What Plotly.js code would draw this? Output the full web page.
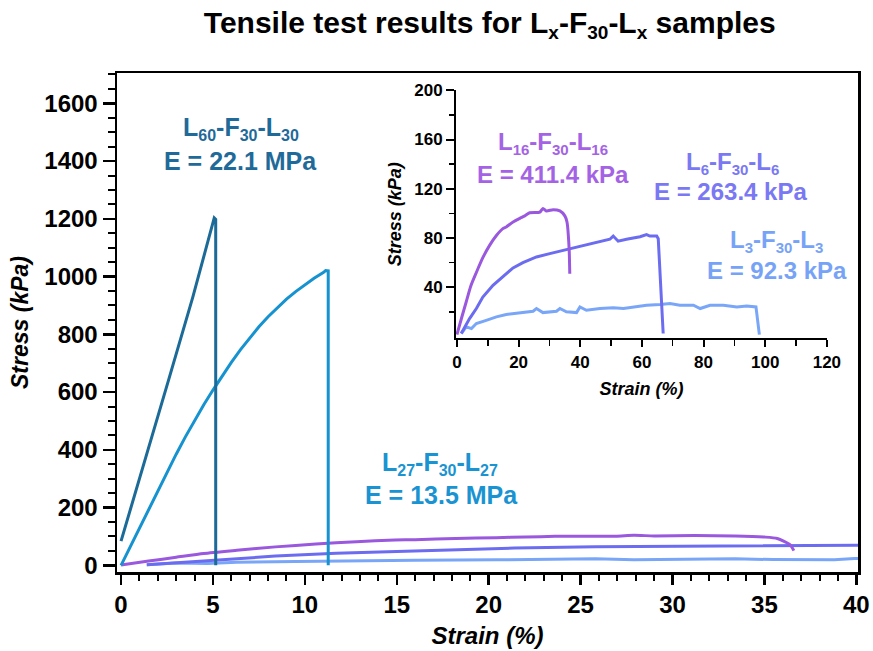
<!DOCTYPE html>
<html>
<head>
<meta charset="utf-8">
<script src="https://cdn.plot.ly/plotly-3.0.1.min.js"></script>
<style>html,body{margin:0;padding:0;background:#fff;}#chart{width:873px;height:651px;}</style>
</head>
<body>
<div id="chart"></div>
<script>
// Strain (%) and stress (kPa)
const strainL60 = [0, 1.3, 2.6, 3.9, 5.07, 5.15, 5.15];
const stressL60 = [84, 362, 645, 928, 1203, 1198, 0];

const strainL27 = [0, 0.5, 1, 1.5, 2, 2.5, 3, 3.5, 4, 4.5, 5, 5.5, 6, 6.5, 7, 7.5, 8, 8.5, 9, 9.5, 10, 10.5, 11, 11.13, 11.27, 11.27];
const stressL27 = [0, 65, 130, 195, 259, 322, 385, 445, 502, 556, 607, 656, 703, 747, 788, 826, 861, 893, 922, 948, 972, 994, 1014, 1021, 1020, 0];

const strainL16 = [0, 1.5, 3.0, 4.5, 6.3, 8.4, 10.6, 12.8, 14.9, 16.0, 18.2, 20.4, 22.0, 23.6, 26.9, 27.9, 29.0, 31.2, 33.4, 35.0, 35.7, 36.4, 36.6];
const stressL16 = [1.5, 15, 28, 41, 52, 64, 74, 82, 87.6, 89, 93, 96, 98, 100.5, 101, 104, 102, 103, 102, 98, 93, 71, 51];

const strainL6 = [1.4, 4.1, 6.3, 8.4, 11.7, 14.9, 18.2, 21.4, 25.8, 30.1, 33.4, 37.7, 42.0, 46.4, 49.6, 50.7, 52.3, 55.0, 59.4, 61.5, 62.6, 64.8, 65.3, 66.9];
const stressL6 = [2.4, 14.5, 22.7, 32, 41.6, 48.4, 55.7, 60, 64.6, 67.3, 69.2, 72, 74, 76.8, 79, 81.6, 77.4, 79, 81, 82.8, 81.6, 81.6, 79.5, 2.4];

const strainL3 = [1.4, 3.0, 4.7, 6.3, 9.5, 12.8, 16.0, 20.4, 24.7, 25.8, 27.9, 32.3, 33.4, 35.5, 38.8, 39.9, 42.0, 46.4, 50.7, 54.0, 57.2, 61.5, 65.9, 69.1, 72.3, 76.7, 78.9, 82.1, 86.4, 90.8, 94.0, 96.2, 97.0, 98.1];
const stressL3 = [2.4, 7.8, 6.4, 10.5, 13.1, 15.9, 17.8, 19.4, 20.5, 22.7, 19.4, 20.5, 22.7, 20, 19.4, 24, 21.3, 22.7, 23.3, 22.7, 24, 25.4, 25.9, 26.7, 25.4, 25.4, 22.7, 25.4, 25.4, 24, 24.8, 24, 24, 1.5];

const FONT = 'Liberation Sans, Arial, Helvetica, sans-serif';
const C = {L60: '#1b6a98', L27: '#1592cf', L16: '#9a58de', L6: '#6c6cf0', L3: '#7aa6f8'};
const T = {L60: '#1f6a99', L27: '#1993d1', L16: '#a463e4', L6: '#7a78f2', L3: '#77a3f7'};

function tr(x, y, color, xa, ya, shape) {
  return {x: x, y: y, type: 'scatter', mode: 'lines', xaxis: xa, yaxis: ya,
          line: {color: color, width: 3, shape: shape || 'linear', smoothing: 0.6},
          hoverinfo: 'skip', showlegend: false};
}

const data = [
  tr(strainL3, stressL3, C.L3, 'x', 'y'),
  tr(strainL6, stressL6, C.L6, 'x', 'y'),
  tr(strainL16, stressL16, C.L16, 'x', 'y', 'spline'),
  tr(strainL27, stressL27, C.L27, 'x', 'y'),
  tr(strainL60, stressL60, C.L60, 'x', 'y'),
  tr(strainL3, stressL3, C.L3, 'x2', 'y2'),
  tr(strainL6, stressL6, C.L6, 'x2', 'y2'),
  tr(strainL16, stressL16, C.L16, 'x2', 'y2', 'spline')
];

function sub(s, px) { return '<sub><span style="font-size:' + px + 'px">' + s + '</span></sub>'; }
function label(a, b, c, px) { return 'L' + sub(a, px) + '-F' + sub(b, px) + '-L' + sub(c, px); }

function ann(text, x, y, color, size, xr, yr) {
  return {text: '<b>' + text + '</b>', x: x, y: y, xref: xr, yref: yr, showarrow: false,
          xanchor: 'center', yanchor: 'middle', font: {family: FONT, size: size, color: color}};
}

const layout = {
  width: 873, height: 651,
  margin: {l: 117, r: 15, t: 73, b: 79},
  paper_bgcolor: '#fff', plot_bgcolor: '#fff',
  font: {family: FONT, color: '#000'},
  title: {text: '<b>Tensile test results for L' + sub('x', 19) + '-F' + sub('30', 19) + '-L' + sub('x', 19) + ' samples</b>',
          x: 0.561, xanchor: 'center', y: 0.966, yanchor: 'middle',
          font: {family: FONT, size: 30, color: '#000'}},
  xaxis: {range: [-0.22, 40.09], tick0: 0, dtick: 5, ticks: 'outside', ticklen: 10, tickwidth: 2.5,
          tickcolor: '#000', showline: true, linecolor: '#000', linewidth: 2.5, mirror: true,
          showgrid: false, zeroline: false,
          minor: {dtick: 1, ticks: 'outside', ticklen: 6, tickwidth: 2, tickcolor: '#000', showgrid: false},
          tickfont: {family: FONT, size: 24, color: '#000', weight: 'bold'},
          title: {text: '<b><i>Strain (%)</i></b>', font: {family: FONT, size: 24, color: '#000'}, standoff: 10}},
  yaxis: {range: [-23, 1705], tick0: 0, dtick: 200, ticks: 'outside', ticklen: 12, tickwidth: 2.5,
          tickcolor: '#000', showline: true, linecolor: '#000', linewidth: 2.5, mirror: true,
          showgrid: false, zeroline: false,
          minor: {dtick: 50, ticks: 'outside', ticklen: 7, tickwidth: 2, tickcolor: '#000', showgrid: false},
          tickfont: {family: FONT, size: 24, color: '#000', weight: 'bold'},
          title: {text: '<b><i>Stress (kPa)</i></b>', font: {family: FONT, size: 23, color: '#000'}, standoff: 10}},
  xaxis2: {domain: [0.4575, 0.958], anchor: 'y2', range: [-0.3, 120], tick0: 0, dtick: 20,
           ticks: 'outside', ticklen: 7, tickwidth: 2, tickcolor: '#000',
           showline: true, linecolor: '#000', linewidth: 2, mirror: false, showgrid: false, zeroline: false,
           minor: {dtick: 10, ticks: 'outside', ticklen: 6, tickwidth: 1.5, tickcolor: '#000', showgrid: false},
           tickfont: {family: FONT, size: 17, color: '#000', weight: 'bold'},
           title: {text: '<b><i>Strain (%)</i></b>', font: {family: FONT, size: 18, color: '#000'}, standoff: 12}},
  yaxis2: {domain: [0.4683, 0.9653], anchor: 'x2', range: [-1.5, 200], tickmode: 'array',
           tickvals: [40, 80, 120, 160, 200],
           ticks: 'outside', ticklen: 8, tickwidth: 2, tickcolor: '#000',
           showline: true, linecolor: '#000', linewidth: 2, mirror: false, showgrid: false, zeroline: false,
           minor: {tickmode: 'array', tickvals: [20, 60, 100, 140, 180], ticks: 'outside', ticklen: 5, tickwidth: 1.5, tickcolor: '#000', showgrid: false},
           tickfont: {family: FONT, size: 17, color: '#000', weight: 'bold'},
           title: {text: '<b><i>Stress (kPa)</i></b>', font: {family: FONT, size: 18, color: '#000'}, standoff: 8}},
  annotations: [
    ann(label('60', '30', '30', 16), 6.54, 1514, T.L60, 25, 'x', 'y'),
    ann('E = 22.1 MPa', 6.49, 1400, T.L60, 25, 'x', 'y'),
    ann(label('27', '30', '27', 16), 17.36, 353, T.L27, 25, 'x', 'y'),
    ann('E = 13.5 MPa', 17.42, 243, T.L27, 25, 'x', 'y'),
    ann(label('16', '30', '16', 15), 31.1, 157.4, T.L16, 24, 'x2', 'y2'),
    ann('E = 411.4 kPa', 31.1, 131.5, T.L16, 24, 'x2', 'y2'),
    ann(label('6', '30', '6', 15), 89.5, 141, T.L6, 24, 'x2', 'y2'),
    ann('E = 263.4 kPa', 88.9, 117.5, T.L6, 24, 'x2', 'y2'),
    ann(label('3', '30', '3', 15), 103.5, 77.5, T.L3, 24, 'x2', 'y2'),
    ann('E = 92.3 kPa', 103.8, 54, T.L3, 24, 'x2', 'y2')
  ]
};

Plotly.newPlot('chart', data, layout, {staticPlot: true, displayModeBar: false});
</script>
</body>
</html>
